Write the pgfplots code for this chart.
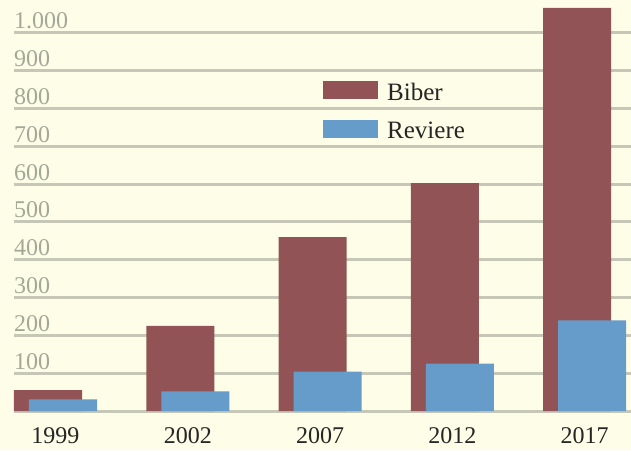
\documentclass[border=0pt]{standalone}
\usepackage{pgfplots}
\pgfplotsset{compat=1.18}
\usepackage{fontspec}
\setmainfont{Liberation Serif}
\definecolor{bgc}{RGB}{254,253,231}
\definecolor{gridc}{RGB}{198,199,182}
\definecolor{labc}{RGB}{163,168,152}
\definecolor{biber}{RGB}{146,83,86}
\definecolor{reviere}{RGB}{101,156,201}
\begin{document}
\begin{tikzpicture}[x=1pt,y=1pt]
\useasboundingbox (0,0) rectangle (631,450);
\fill[bgc] (0,0) rectangle (631,450);
\begin{axis}[
  at={(14pt,39pt)}, anchor=south west,
  scale only axis, width=617pt, height=411pt,
  xmin=-0.3138, xmax=4.3516, ymin=0, ymax=1087,
  axis line style={draw=none},
  major tick length=0pt,
  ymajorgrids, grid style={color=gridc, line width=3pt},
  ytick={0,100,...,1000},
  yticklabels={,100,200,300,400,500,600,700,800,900,1.000},
  yticklabel style={anchor=base west, inner sep=0pt, text=labc, font=\fontsize{24}{24}\selectfont, xshift=0pt, yshift=4pt},
  xtick={0,1,2,3,4},
  xticklabels={1999,2002,2007,2012,2017},
  xticklabel style={anchor=north, inner sep=0pt, text=black!85, font=\fontsize{24}{24}\selectfont, yshift=-16pt},
  legend style={draw=none, fill=none, at={(0.5008,0.803)}, anchor=north west, inner sep=0pt,
    nodes={inner sep=0pt, font=\fontsize{25}{25}\selectfont, text=black!85}, row sep=18pt,
    /tikz/every odd column/.append style={column sep=9pt}},
  legend cell align=left,
  legend image code/.code={\fill[#1] (0pt,-7pt) rectangle (55pt,11pt);},
]
\addplot[ybar, bar width=68pt, bar shift=-7.5pt, fill=biber, draw=none] coordinates {(0,55) (1,225) (2,460) (3,603) (4,1066)};
\addlegendentry{Biber}
\addplot[ybar, bar width=68pt, bar shift=7.5pt, fill=reviere, draw=none] coordinates {(0,31) (1,52) (2,104) (3,125) (4,240)};
\addlegendentry{Reviere}
\end{axis}
\end{tikzpicture}
\end{document}
